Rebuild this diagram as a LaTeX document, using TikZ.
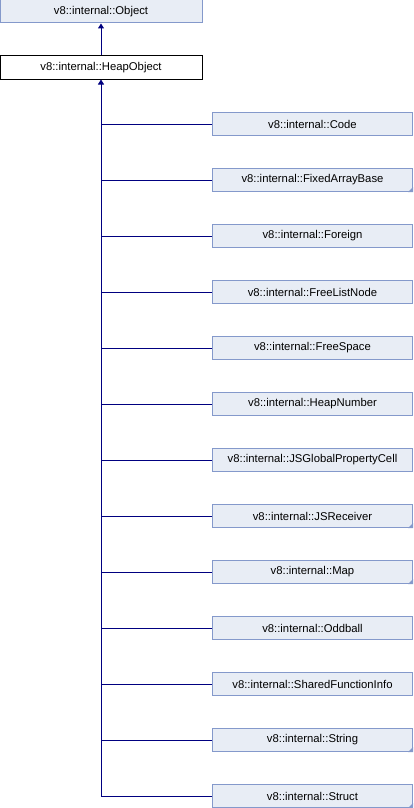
\documentclass[tikz,border=0pt]{standalone}
\usepackage{fontspec}
\setmainfont{Liberation Sans}
\usetikzlibrary{arrows.meta}
\definecolor{boxfill}{HTML}{E8EDF5}
\definecolor{boxline}{HTML}{8499CB}
\definecolor{edgeblue}{HTML}{000080}
\tikzset{
  cls/.style={draw=boxline, fill=boxfill, line width=1pt, minimum width=200pt,
    minimum height=23pt, inner sep=0pt, font=\fontsize{11.3}{13}\selectfont},
  curcls/.style={cls, draw=black, fill=white, minimum width=202pt},
  inherit/.style={edgeblue, line width=1pt},
  inheritarrow/.style={inherit, -{Triangle[width=6pt,length=5pt]}}
}
\begin{document}
\begin{tikzpicture}[x=1pt,y=-1pt]
  \useasboundingbox (0,0) rectangle (414,808);
  \node[cls, minimum width=202pt] (object) at (101,11.5) {v8::internal::Object};
  \node[curcls] (heapobject) at (101,67.5) {v8::internal::HeapObject};
  \draw[inheritarrow] (heapobject.north) -- (object.south);
  % subclasses of HeapObject
  \foreach \nm/\lbl/\more [count=\i] in {
      code/Code/0, fixedarraybase/FixedArrayBase/1, foreign/Foreign/0,
      freelistnode/FreeListNode/0, freespace/FreeSpace/0, heapnumber/HeapNumber/0,
      jsglobalpropertycell/JSGlobalPropertyCell/0, jsreceiver/JSReceiver/1,
      map/Map/1, oddball/Oddball/0, sharedfunctioninfo/SharedFunctionInfo/0,
      string/String/1, struct/Struct/1}{
    \node[cls] (\nm) at (312.5,{124+56*(\i-1)}) {v8::internal::\lbl};
    \draw[inherit] (\nm.west) -- (\nm.west -| heapobject.south);
    \ifnum\more=1
      \fill[boxline] (\nm.south east) -- ([xshift=-5pt]\nm.south east)
        -- ([yshift=5pt]\nm.south east) -- cycle;
    \fi
  }
  \coordinate (trunkend) at (struct.west -| heapobject.south);
  \draw[inheritarrow] (trunkend) -- (heapobject.south);
\end{tikzpicture}
\end{document}
